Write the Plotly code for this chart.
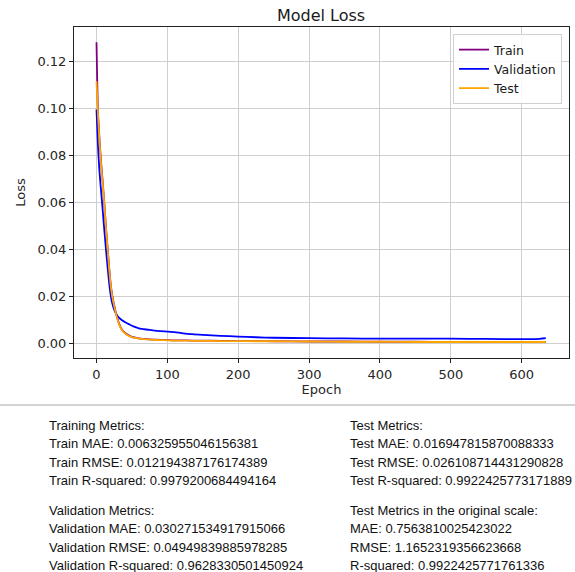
import plotly.graph_objects as go

# ---- data ----
epochs = [0, 1, 2, 4, 6, 8, 10, 12, 14, 16, 18, 20, 22, 25, 28, 32, 36, 40, 45, 50, 55, 60,
          70, 80, 90, 100, 110, 120, 135, 150, 175, 200, 225, 250, 300, 350, 400, 450,
          500, 550, 600, 620, 634]
train_loss = [0.1280, 0.1120, 0.0990, 0.0880, 0.0790, 0.0715, 0.0640, 0.0555, 0.0470, 0.0395,
              0.0320, 0.0255, 0.0210, 0.0163, 0.0125, 0.0085, 0.0060, 0.0047, 0.0037, 0.0030,
              0.0026, 0.0023, 0.0020, 0.0018, 0.0017, 0.0016, 0.0015, 0.0015, 0.0014, 0.0014,
              0.0013, 0.0012, 0.0012, 0.0011, 0.0010, 0.0010, 0.0009, 0.0009, 0.0008, 0.0008,
              0.0008, 0.0008, 0.0008]
val_loss = [0.0995, 0.0920, 0.0845, 0.0740, 0.0665, 0.0595, 0.0520, 0.0450, 0.0380, 0.0315,
            0.0255, 0.0208, 0.0175, 0.0145, 0.0126, 0.0110, 0.0100, 0.0093, 0.0085, 0.0077,
            0.0071, 0.0066, 0.0061, 0.0057, 0.0054, 0.0052, 0.0050, 0.0046, 0.0041, 0.0038,
            0.0034, 0.0031, 0.0028, 0.0026, 0.0024, 0.0023, 0.0022, 0.0022, 0.0022, 0.0021,
            0.0020, 0.0020, 0.0024]
test_loss = [0.1115, 0.1050, 0.0980, 0.0870, 0.0780, 0.0705, 0.0635, 0.0550, 0.0465, 0.0390,
             0.0315, 0.0250, 0.0205, 0.0160, 0.0122, 0.0082, 0.0058, 0.0045, 0.0035, 0.0029,
             0.0025, 0.0022, 0.0019, 0.0017, 0.0016, 0.0015, 0.0014, 0.0014, 0.0013, 0.0013,
             0.0012, 0.0012, 0.0011, 0.0011, 0.0010, 0.0009, 0.0009, 0.0008, 0.0008, 0.0008,
             0.0008, 0.0008, 0.0008]

series_names = ["Train", "Validation", "Test"]
series_colors = ["purple", "blue", "orange"]

x_ticks = [0, 100, 200, 300, 400, 500, 600]
y_ticks = [0.00, 0.02, 0.04, 0.06, 0.08, 0.10, 0.12]
y_tick_labels = ["0.00", "0.02", "0.04", "0.06", "0.08", "0.10", "0.12"]

left_lines = [
    "Training Metrics:",
    "Train MAE: 0.006325955046156381",
    "Train RMSE: 0.012194387176174389",
    "Train R-squared: 0.9979200684494164",
    "",
    "Validation Metrics:",
    "Validation MAE: 0.030271534917915066",
    "Validation RMSE: 0.04949839885978285",
    "Validation R-squared: 0.9628330501450924",
]
right_lines = [
    "Test Metrics:",
    "Test MAE: 0.016947815870088333",
    "Test RMSE: 0.026108714431290828",
    "Test R-squared: 0.9922425773171889",
    "",
    "Test Metrics in the original scale:",
    "MAE: 0.7563810025423022",
    "RMSE: 1.1652319356623668",
    "R-squared: 0.9922425771761336",
]

# ---- layout geometry (pixels) ----
W, H = 575, 572
L, R, T, B = 74, 569, 27, 358
pw, ph = R - L, B - T

def px_x(px):
    return (px - L) / pw

def px_y(py):
    return (B - py) / ph

fig = go.Figure()
for name, color, ys in zip(series_names, series_colors, [train_loss, val_loss, test_loss]):
    fig.add_trace(go.Scatter(x=epochs, y=ys, mode="lines", name=name,
                             line=dict(color=color, width=1.8, shape="spline", smoothing=0.6)))

chart_font = "DejaVu Sans"
axis_common = dict(showline=True, linecolor="#222222", linewidth=1, mirror=True,
                   ticks="outside", ticklen=4, tickcolor="#222222", tickwidth=1,
                   showgrid=True, gridcolor="#cfcfcf", gridwidth=1, zeroline=False,
                   tickfont=dict(family=chart_font, size=13, color="#262626"))

fig.update_layout(
    width=W, height=H,
    margin=dict(l=L, r=W - R, t=T, b=H - B),
    paper_bgcolor="white", plot_bgcolor="white",
    title=dict(text="Model Loss", x=321 / W, xanchor="center",
               y=1 - 15 / H, yanchor="middle",
               font=dict(family=chart_font, size=16, color="#1a1a1a")),
    xaxis=dict(range=[-31.75, 666.75], tickvals=x_ticks,
               title=dict(text="Epoch", font=dict(family=chart_font, size=13, color="#262626"),
                          standoff=4),
               **axis_common),
    yaxis=dict(range=[-0.0060, 0.1345], tickvals=y_ticks, ticktext=y_tick_labels,
               title=dict(text="Loss", font=dict(family=chart_font, size=13, color="#262626"),
                          standoff=8),
               **axis_common),
    legend=dict(x=px_x(562), y=px_y(34), xanchor="right", yanchor="top",
                bgcolor="rgba(255,255,255,0.85)", bordercolor="#d0d0d0", borderwidth=1,
                font=dict(family=chart_font, size=12.5, color="#1a1a1a"),
                tracegroupgap=0, itemwidth=30),
    showlegend=True,
)

# separator line
fig.add_shape(type="line", xref="paper", yref="paper",
              x0=px_x(0), x1=px_x(W), y0=px_y(405), y1=px_y(405),
              line=dict(color="#a8a8a8", width=1))

line_centers = [425, 443.5, 462, 480.5, 499, 510, 528.5, 547, 565]
text_font = dict(family="Liberation Sans", size=13, color="#111111")
for col_x, lines in [(47, left_lines), (348, right_lines)]:
    for i, txt in enumerate(lines):
        if not txt:
            continue
        fig.add_annotation(text=txt, xref="paper", yref="paper",
                           x=px_x(col_x), y=px_y(line_centers[i]),
                           xanchor="left", yanchor="middle", showarrow=False,
                           font=text_font)

fig.write_html("out.html")
